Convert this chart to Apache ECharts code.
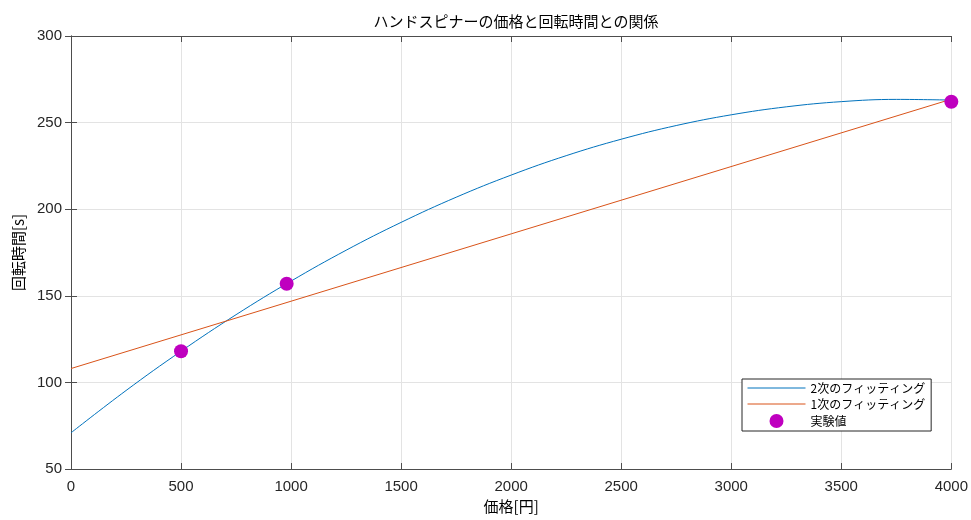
<!DOCTYPE html>
<html><head><meta charset="utf-8">
<script src="https://cdn.jsdelivr.net/npm/echarts@6/dist/echarts.min.js"></script>
<style>html,body{margin:0;padding:0;background:#fff}#c{width:971px;height:520px}</style>
</head><body><div id="c"></div>
<script>
const title = 'ハンドスピナーの価格と回転時間との関係';
const xName = '価格[円]';
const yName = '回転時間[s]';
const seriesNames = ['2次のフィッティング', '1次のフィッティング', '実験値'];
// quadratic fit curve
const quadX = [0, 250, 500, 750, 1000, 1250, 1500, 1750, 2000, 2250, 2500, 2750, 3000, 3250, 3500, 3750, 4000];
const quadY = [70.9, 95.3, 118, 139.1, 158.5, 176.3, 192.4, 206.9, 219.7, 230.9, 240.4, 248.3, 254.5, 259.1, 262.1, 263.4, 263.0];
// linear fit line
const linX = [0, 4000];
const linY = [108, 263.5];
// measured values
const expX = [500, 980, 4000];
const expY = [118, 157, 262];
const xTicks = [0, 500, 1000, 1500, 2000, 2500, 3000, 3500, 4000];
const yTicks = [50, 100, 150, 200, 250, 300];

const zip = (a, b) => a.map((v, i) => [v, b[i]]);
const axisCol = '#262626';
const font = '"Noto Sans CJK JP", "Liberation Sans", sans-serif';
const numFont = '"Liberation Sans", sans-serif';
const chart = echarts.init(document.getElementById('c'));
const baseX = {
  type: 'value', min: xTicks[0], max: xTicks[xTicks.length - 1], interval: 500,
  axisLine: { show: true, lineStyle: { color: '#4d4d4d', width: 1 } },
  axisTick: { show: true, inside: true, length: 6, lineStyle: { color: '#4d4d4d' } },
  splitLine: { show: false }
};
const baseY = {
  type: 'value', min: yTicks[0], max: yTicks[yTicks.length - 1], interval: 50,
  axisLine: { show: true, lineStyle: { color: '#4d4d4d', width: 1 } },
  axisTick: { show: true, inside: true, length: 6, lineStyle: { color: '#4d4d4d' } },
  splitLine: { show: false }
};
const hidden = { color: 'rgba(0,0,0,0)', borderWidth: 0, opacity: 0 };
chart.setOption({
  animation: false,
  backgroundColor: '#fff',
  textStyle: { fontFamily: font },
  title: { text: title, left: 511, top: 9, textAlign: 'center',
    textStyle: { fontSize: 15, fontWeight: 'normal', color: '#000', fontFamily: font } },
  grid: { left: 71, right: 18, top: 36, bottom: 51, containLabel: false },
  legend: {
    orient: 'vertical', left: 742, top: 379, padding: [3, 6, 3, 5], itemGap: 4,
    itemWidth: 58, itemHeight: 14, borderColor: '#262626', borderWidth: 1, backgroundColor: '#fff',
    lineStyle: { width: 1 },
    textStyle: { fontSize: 12, color: '#000', fontFamily: font },
    data: [
      { name: seriesNames[0], itemStyle: hidden },
      { name: seriesNames[1], itemStyle: hidden },
      { name: seriesNames[2], icon: 'circle' }
    ]
  },
  xAxis: [
    Object.assign({}, baseX, {
      position: 'bottom', name: xName, nameLocation: 'middle', nameGap: 30,
      nameTextStyle: { fontSize: 15, color: '#000', fontFamily: font },
      axisLabel: { fontSize: 15, color: axisCol, margin: 10, fontFamily: numFont, formatter: v => String(v) },
      splitLine: { show: true, lineStyle: { color: '#e3e3e3', width: 1 } }
    }),
    Object.assign({}, baseX, { position: 'top', axisLabel: { show: false } })
  ],
  yAxis: [
    Object.assign({}, baseY, {
      position: 'left', name: yName, nameLocation: 'middle', nameGap: 42, nameRotate: 90,
      nameTextStyle: { fontSize: 15, color: '#000', fontFamily: font },
      axisLabel: { fontSize: 15, color: axisCol, margin: 9, fontFamily: numFont, formatter: v => String(v) },
      splitLine: { show: true, lineStyle: { color: '#e3e3e3', width: 1 } }
    }),
    Object.assign({}, baseY, { position: 'right', axisLabel: { show: false } })
  ],
  series: [
    { name: seriesNames[0], type: 'line', data: zip(quadX, quadY), smooth: 0.4, symbol: 'none',
      lineStyle: { color: '#0072BD', width: 1 }, itemStyle: { color: '#0072BD' } },
    { name: seriesNames[1], type: 'line', data: zip(linX, linY), symbol: 'none',
      lineStyle: { color: '#D95319', width: 1 }, itemStyle: { color: '#D95319' } },
    { name: seriesNames[2], type: 'scatter', data: zip(expX, expY), symbolSize: 14,
      itemStyle: { color: '#BF00BF', opacity: 1 }, z: 5 }
  ]
});
</script></body></html>
